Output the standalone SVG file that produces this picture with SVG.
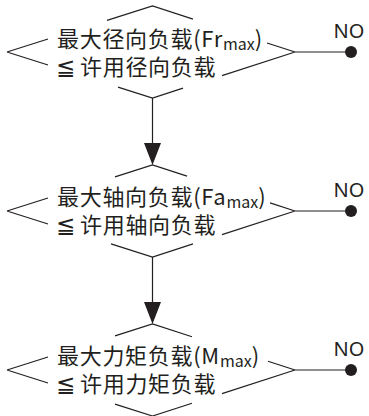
<svg xmlns="http://www.w3.org/2000/svg" width="369" height="416" viewBox="0 0 369 416">
<style>
.edge{fill:none;stroke:#231f20;stroke-width:1.2}
.t{font-family:"Noto Sans CJK SC","Noto Sans",sans-serif;font-size:22px;letter-spacing:0.7px;fill:#231f20}
.le{font-family:"DejaVu Sans","Noto Sans CJK SC",sans-serif;font-size:23px;letter-spacing:0}
.sub{font-size:16px;letter-spacing:0}
.no{font-family:"Noto Sans","Liberation Sans",sans-serif;font-size:20px;fill:#231f20}
.dot,.head{fill:#231f20}
</style>
<g id="d1">
<path class="edge" d="M7,52 L48,39.04 M107,20.4 L152.5,6 L193,19.07 M267,42.96 L295,52 M7,52 L48,65 M118,87.08 L152.5,98 L183,88.15 M222,75.56 L295,52"/>
<text class="t"><tspan x="57" y="47">最大径向负载(Fr</tspan><tspan class="sub" dy="3">max</tspan><tspan dy="-3">)</tspan><tspan class="le" x="56" y="75">≦</tspan><tspan x="80" y="75">许用径向负载</tspan></text>
</g>
<g id="d2">
<path class="edge" d="M7,211 L48,198.04 M115,176.87 L152.5,165 L187,176.14 M270,202.93 L295,211 M7,211 L48,223.96 M111,243.86 L152.5,257 L193,243.93 M222,234.56 L295,211"/>
<text class="t"><tspan x="57" y="205">最大轴向负载(Fa</tspan><tspan class="sub" dy="3">max</tspan><tspan dy="-3">)</tspan><tspan class="le" x="56" y="233">≦</tspan><tspan x="80" y="233">许用轴向负载</tspan></text>
</g>
<g id="d3">
<path class="edge" d="M7,370 L48,357.04 M115,335.87 L152.5,324 L192,336.75 M268,361.28 L295,370 M7,370 L48,382.96 M115,404.13 L152.5,416 L192,403.25 M222,393.56 L295,370"/>
<text class="t"><tspan x="57" y="364">最大力矩负载(M</tspan><tspan class="sub" dy="3">max</tspan><tspan dy="-3">)</tspan><tspan class="le" x="56" y="392">≦</tspan><tspan x="80" y="392">许用力矩负载</tspan></text>
</g>
<g id="no1"><text class="no" x="349" y="38" text-anchor="middle">NO</text><circle class="dot" cx="351" cy="52" r="6"/></g>
<g id="no2"><text class="no" x="349" y="197" text-anchor="middle">NO</text><circle class="dot" cx="351" cy="211" r="6"/></g>
<g id="no3"><text class="no" x="349" y="356" text-anchor="middle">NO</text><circle class="dot" cx="351" cy="370" r="6"/></g>
<g id="connectors">
<path class="edge" d="M295,52 L351,52 M295,211 L351,211 M295,370 L351,370"/>
<path class="edge" d="M152.5,98 L152.5,145 M152.5,257 L152.5,304"/>
<path class="head" d="M144,143 L161,143 L152.5,165 Z M144,302 L161,302 L152.5,324 Z"/>
</g>
</svg>
